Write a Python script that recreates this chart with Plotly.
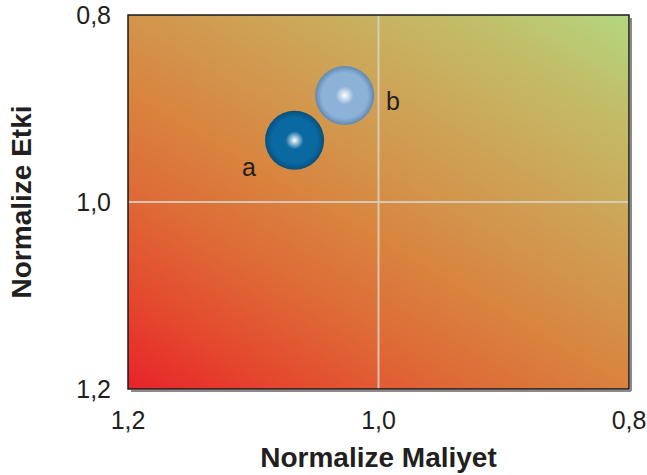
import numpy as np
import plotly.graph_objects as go

# Bubble data: normalized cost (x) and normalized impact (y)
labels = ["a", "b"]
cost = [1.067, 1.027]
impact = [0.934, 0.886]

# Axis ticks
tick_vals = [1.2, 1.0, 0.8]
tick_text = ["1,2", "1,0", "0,8"]

# Bubble styling
body_colors = ["#0b69a2", "#8cb3d7"]
rim_colors = ["#08527f", "#668cb5"]
label_shift = [(-46, -27), (48, -6)]

FONT = "Liberation Sans, Arial, Helvetica, sans-serif"


def mix(c1, c2, t):
    a = [int(c1[i:i + 2], 16) for i in (1, 3, 5)]
    b = [int(c2[i:i + 2], 16) for i in (1, 3, 5)]
    return "#%02x%02x%02x" % tuple(round(a[k] + (b[k] - a[k]) * t) for k in range(3))


fig = go.Figure()

# Background colour wash: red at high cost / high impact, green at low values
gx = np.linspace(0.8, 1.2, 41)
gy = np.linspace(0.8, 1.2, 41)
u = (1.2 - gx) / 0.4
v = (1.2 - gy) / 0.4
wash = 0.44 * u[None, :] + 0.56 * v[:, None]
fig.add_trace(go.Heatmap(
    x=gx, y=gy, z=wash, zmin=0, zmax=1, zsmooth="best", showscale=False,
    hoverinfo="skip",
    colorscale=[
        [0.0, "#e8232a"], [0.15, "#e44a2e"], [0.3, "#de6b37"],
        [0.45, "#d9843f"], [0.55, "#d3934a"], [0.7, "#cca85a"],
        [0.85, "#c2bd68"], [1.0, "#b3d780"],
    ],
))

# Shaded spheres: concentric discs from rim to body, then a soft highlight
sizes = [59, 57, 55, 53, 51, 49, 47]
for i, lab in enumerate(labels):
    for k, s in enumerate(sizes):
        t = k / (len(sizes) - 1)
        fig.add_trace(go.Scatter(
            x=[cost[i]], y=[impact[i]], mode="markers", hoverinfo="skip",
            marker=dict(size=s, color=mix(rim_colors[i], body_colors[i], t),
                        line=dict(width=0)),
            showlegend=False,
        ))
    fig.add_trace(go.Scatter(
        x=[cost[i]], y=[impact[i]], mode="markers", hoverinfo="skip",
        marker=dict(size=18, color=body_colors[i], line=dict(width=0),
                    gradient=dict(type="radial", color="#ffffff")),
        showlegend=False,
    ))
    fig.add_annotation(
        x=cost[i], y=impact[i], text=lab, showarrow=False,
        xshift=label_shift[i][0], yshift=label_shift[i][1],
        font=dict(family=FONT, size=25, color="#231f20"),
    )

# Reference lines at 1,0 on both axes
fig.add_shape(type="line", xref="x", yref="paper", x0=1.0, x1=1.0, y0=0, y1=1,
              line=dict(color="rgba(215,210,200,0.85)", width=2), layer="above")
fig.add_shape(type="line", xref="paper", yref="y", x0=0, x1=1, y0=1.0, y1=1.0,
              line=dict(color="rgba(215,210,200,0.85)", width=2), layer="above")

# Frame with a thin drop shadow on the right and bottom
pw, ph = 501, 374
fig.add_shape(type="line", xref="paper", yref="paper",
              x0=1 + 2 / pw, x1=1 + 2 / pw, y0=-2 / ph, y1=1 - 3 / ph,
              line=dict(color="#8a8a8a", width=2), layer="above")
fig.add_shape(type="line", xref="paper", yref="paper",
              x0=3 / pw, x1=1 + 2 / pw, y0=-2 / ph, y1=-2 / ph,
              line=dict(color="#8a8a8a", width=2), layer="above")
fig.add_shape(type="rect", xref="paper", yref="paper", x0=0, x1=1, y0=0, y1=1,
              line=dict(color="#1a1a1a", width=1.5), layer="above")

axis_common = dict(
    tickvals=tick_vals, ticktext=tick_text, showgrid=False, zeroline=False,
    showline=False, ticks="", automargin=False,
    tickfont=dict(family=FONT, size=25, color="#231f20"),
)

fig.update_layout(
    width=647, height=475,
    margin=dict(l=128, r=18, t=15, b=86, autoexpand=False),
    paper_bgcolor="white", plot_bgcolor="white",
    showlegend=False,
    xaxis=dict(range=[1.2, 0.8], ticklabelstandoff=14,
               title=dict(text="<b>Normalize Maliyet</b>", standoff=14,
                          font=dict(family=FONT, size=28, color="#231f20")),
               **axis_common),
    yaxis=dict(range=[1.2, 0.8], ticklabelstandoff=16,
               title=dict(text="<b>Normalize Etki</b>", standoff=36,
                          font=dict(family=FONT, size=28, color="#231f20")),
               **axis_common),
)

fig.write_html("out.html")
